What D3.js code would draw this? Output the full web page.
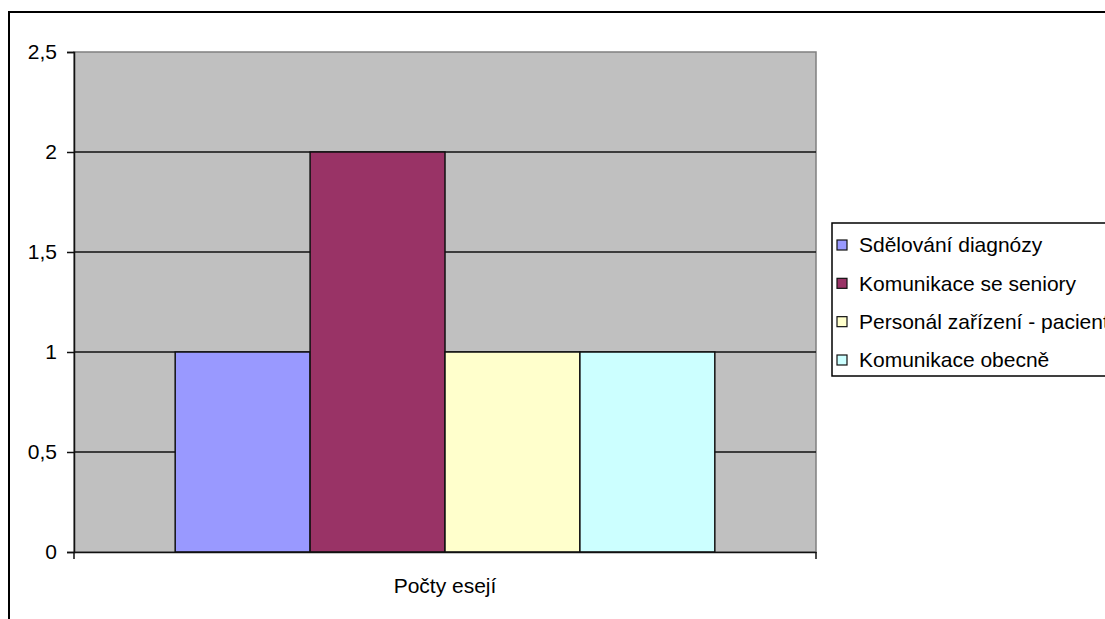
<!DOCTYPE html>
<html>
<head>
<meta charset="utf-8">
<script src="https://cdn.jsdelivr.net/npm/d3@7"></script>
<style>
  html, body { margin: 0; padding: 0; background: #fff; overflow: hidden; }
  svg { display: block; font-family: "Liberation Sans", Arial, sans-serif; }
</style>
</head>
<body>
<svg id="chart" width="1105" height="619"></svg>
<script>
// Počty esejí podle tématu
const category = "Počty esejí";
const seriesNames = ["Sdělování diagnózy", "Komunikace se seniory", "Personál zařízení - pacient", "Komunikace obecně"];
const seriesValues = [1, 2, 1, 1];
const seriesColors = ["#9999FF", "#993366", "#FFFFCC", "#CCFFFF"];
const yTicks = [0, 0.5, 1, 1.5, 2, 2.5];

const FONT = 21;
const svg = d3.select("#chart");

// outer chart frame (continues past the window on the right and bottom)
svg.append("rect")
  .attr("x", 9).attr("y", 12)
  .attr("width", 1200).attr("height", 700)
  .attr("fill", "#fff").attr("stroke", "#000").attr("stroke-width", 2);

const plot = { left: 74, right: 816, top: 52, bottom: 552 };

const y = d3.scaleLinear().domain([0, 2.5]).range([plot.bottom, plot.top]);
const x0 = d3.scaleBand().domain([category]).range([plot.left, plot.right]).paddingInner(0).paddingOuter(0);
// four bars share the group; gap of 1.5 bar widths split on both sides
const groupW = x0.bandwidth();
const barW = groupW / (seriesNames.length + 1.5);
const x1 = d3.scaleBand().domain(seriesNames)
  .range([x0(category) + barW * 0.75, x0(category) + groupW - barW * 0.75])
  .padding(0);

// plot area
svg.append("rect")
  .attr("x", plot.left).attr("y", plot.top)
  .attr("width", plot.right - plot.left).attr("height", plot.bottom - plot.top)
  .attr("fill", "#C0C0C0").attr("stroke", "#808080").attr("stroke-width", 1.5);

// horizontal gridlines
svg.append("g").selectAll("line")
  .data(yTicks.filter(t => t > 0 && t < 2.5))
  .join("line")
  .attr("x1", plot.left).attr("x2", plot.right)
  .attr("y1", d => y(d)).attr("y2", d => y(d))
  .attr("stroke", "#111").attr("stroke-width", 1.5);

// bars
svg.append("g").selectAll("rect")
  .data(seriesNames.map((n, i) => ({ name: n, value: seriesValues[i], color: seriesColors[i] })))
  .join("rect")
  .attr("x", d => x1(d.name))
  .attr("y", d => y(d.value))
  .attr("width", x1.bandwidth())
  .attr("height", d => y(0) - y(d.value))
  .attr("fill", d => d.color)
  .attr("stroke", "#111").attr("stroke-width", 1.5);

// y axis
const fmt = d => String(d).replace(".", ",");
const yAxis = svg.append("g")
  .attr("transform", `translate(${plot.left},0)`)
  .call(d3.axisLeft(y).tickValues(yTicks).tickFormat(fmt).tickSize(7).tickPadding(10));
yAxis.select(".domain").attr("stroke", "#111").attr("stroke-width", 1.5);
yAxis.selectAll(".tick line").attr("stroke", "#111").attr("stroke-width", 1.5);
yAxis.selectAll(".tick text")
  .attr("font-size", FONT).attr("fill", "#000")
  .attr("font-family", "Liberation Sans, Arial, sans-serif");

// x axis
const xAxis = svg.append("g")
  .attr("transform", `translate(0,${plot.bottom})`)
  .call(d3.axisBottom(x0).tickSize(0).tickPadding(26));
xAxis.select(".domain").attr("stroke", "#111").attr("stroke-width", 1.5);
xAxis.selectAll(".tick text")
  .attr("font-size", FONT).attr("fill", "#000")
  .attr("font-family", "Liberation Sans, Arial, sans-serif");
// category boundary tick marks
xAxis.selectAll(".edge")
  .data([plot.left, plot.right])
  .join("line")
  .attr("x1", d => d).attr("x2", d => d)
  .attr("y1", 0).attr("y2", 7)
  .attr("stroke", "#111").attr("stroke-width", 1.5);

// legend
const legend = svg.append("g");
legend.append("rect")
  .attr("x", 832).attr("y", 223)
  .attr("width", 300).attr("height", 153)
  .attr("fill", "#fff").attr("stroke", "#000").attr("stroke-width", 1.5);
const rowY = d3.scalePoint().domain(seriesNames).range([245, 360]);
const items = legend.selectAll("g.item")
  .data(seriesNames.map((n, i) => ({ name: n, color: seriesColors[i] })))
  .join("g").attr("class", "item")
  .attr("transform", d => `translate(0,${rowY(d.name)})`);
items.append("rect")
  .attr("x", 837).attr("y", -5)
  .attr("width", 10).attr("height", 10)
  .attr("fill", d => d.color).attr("stroke", "#111").attr("stroke-width", 1.2);
items.append("text")
  .attr("x", 859).attr("y", 0).attr("dy", "0.35em")
  .attr("font-size", FONT).attr("fill", "#000")
  .text(d => d.name);
</script>
</body>
</html>
